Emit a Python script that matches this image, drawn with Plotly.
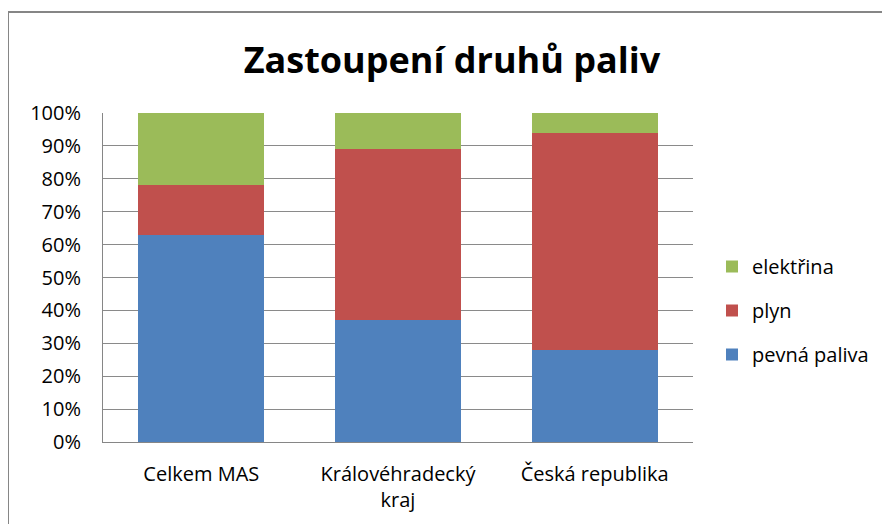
import plotly.graph_objects as go

categories = ["Celkem MAS", "Královéhradecký<br>kraj", "Česká republika"]
pevna_paliva = [63, 37, 28]
plyn = [15, 52, 66]
elektrina = [22, 11, 6]
y_ticks = [0, 10, 20, 30, 40, 50, 60, 70, 80, 90, 100]
y_tick_labels = [f"{v}%" for v in y_ticks]

FONT = "Open Sans"
OFF = 8  # default body margin of the html page
fig = go.Figure()
for rank, (name, vals, col) in enumerate([("pevná paliva", pevna_paliva, "#4F81BD"),
                                          ("plyn", plyn, "#C0504D"),
                                          ("elektřina", elektrina, "#9BBB59")]):
    fig.add_trace(go.Bar(x=categories, y=vals, name=name, marker_color=col,
                         marker_line_width=0, legendgroup=name,
                         legendrank=3 - rank))

SW, SH = 890, 524
W, H = SW - OFF, SH - OFF
# plot area in screen pixels: x 103..693, y 113..442
L, R, T, B = 103 - OFF, SW - 693, 113 - OFF, SH - 442
pw, ph = W - L - R, H - T - B

def px_x(p):
    return (p - OFF - L) / pw

def px_y(p):
    return (H - B - (p - OFF)) / ph

fig.update_layout(
    width=W, height=H,
    margin=dict(l=L, r=R, t=T, b=B, autoexpand=False),
    barmode="stack", bargap=0.36,
    plot_bgcolor="white", paper_bgcolor="white",
    font=dict(family=FONT, size=20, color="#000000"),
    title=dict(text="<b>Zastoupení druhů paliv</b>", x=(452 - OFF) / W, xanchor="center",
               y=1 - (60 - OFF) / H, yanchor="middle", yref="container",
               font=dict(family=FONT, size=36, color="#000000")),
    xaxis=dict(showgrid=False, showline=True, linecolor="#868686", linewidth=1,
               ticks="", ticklabelstandoff=14, tickfont=dict(size=20)),
    yaxis=dict(range=[0, 100], tickvals=y_ticks, ticktext=y_tick_labels,
               showgrid=True, gridcolor="#8a8a8a", gridwidth=1,
               showline=True, linecolor="#868686", linewidth=1,
               ticks="", ticklabelstandoff=17, zeroline=False,
               tickfont=dict(size=20)),
    legend=dict(x=px_x(712), y=px_y(247), xanchor="left", yanchor="top",
                traceorder="grouped", tracegroupgap=15,
                font=dict(size=20), bgcolor="rgba(0,0,0,0)"),
    shapes=[dict(type="rect", xref="paper", yref="paper",
                 x0=px_x(8), x1=px_x(900), y0=px_y(540), y1=px_y(12),
                 line=dict(color="#868686", width=2), fillcolor="rgba(0,0,0,0)",
                 layer="below")],
)

fig.write_html("out.html")
